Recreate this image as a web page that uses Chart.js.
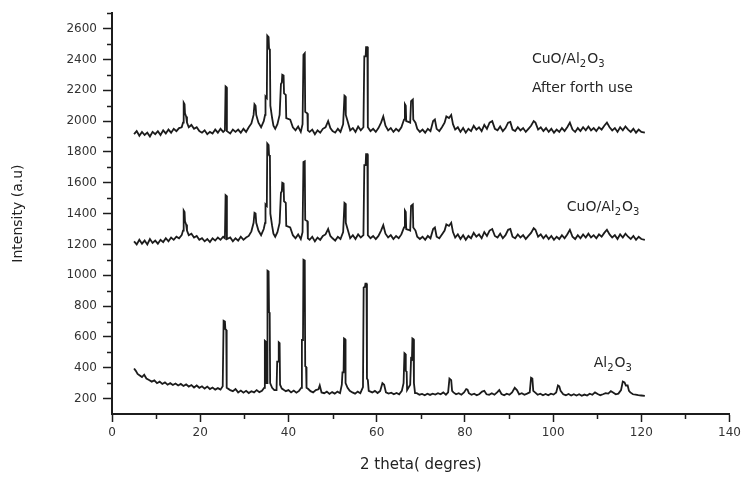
<!DOCTYPE html>
<html>
<head>
<meta charset="utf-8">
<script src="https://cdn.jsdelivr.net/npm/chart.js@4/dist/chart.umd.min.js"></script>
<style>
  body { margin: 0; background: #fff; }
  #wrap { width: 745px; height: 483px; }
</style>
</head>
<body>
<div id="wrap"><canvas id="xrd" width="745" height="483"></canvas></div>
<script>
// XRD patterns, [2 theta, intensity]
const afterUseScan = [
  [5.0,1915],[5.6,1935],[6.2,1905],[6.8,1930],[7.4,1910],[8.0,1925],[8.6,1900],[9.2,1930],[9.8,1915],[10.4,1935],
  [11.0,1910],[11.6,1940],[12.2,1920],[12.8,1945],[13.4,1925],[14.0,1950],[14.6,1935],[15.2,1955],[15.8,1960],[16.1,1990],
  [16.25,2120],[16.45,2110],[16.55,2050],[16.8,2030],[17.0,1990],[17.4,1960],[18.0,1975],[18.6,1950],[19.2,1960],[19.8,1935],
  [20.4,1925],[21.0,1940],[21.6,1915],[22.2,1930],[22.8,1920],[23.4,1945],[24.0,1925],[24.6,1950],[25.2,1930],[25.6,1940],
  [25.75,2225],[25.95,2220],[26.05,1935],[26.8,1920],[27.4,1945],[28.0,1930],[28.6,1945],[29.2,1925],[29.8,1950],[30.4,1930],
  [31.0,1960],[31.6,1985],[32.1,2040],[32.3,2110],[32.55,2100],[32.7,2040],[33.2,1990],[33.8,1960],[34.4,2000],[34.7,2040],
  [34.8,2160],[35.1,2150],[35.2,2555],[35.5,2545],[35.6,2470],[35.8,2460],[35.9,2100],[36.3,2020],[36.6,1970],[37.0,1950],
  [37.5,1980],[38.0,2040],[38.3,2240],[38.5,2250],[38.6,2300],[38.9,2295],[39.0,2180],[39.4,2170],[39.5,2020],[40.4,2010],
  [41.0,1960],[41.6,1940],[42.2,1965],[42.8,1930],[43.2,1980],[43.4,2430],[43.7,2440],[43.8,2060],[44.3,2050],[44.4,1940],
  [44.8,1930],[45.4,1945],[46.0,1915],[46.6,1940],[47.2,1925],[47.8,1950],[48.4,1960],[49.0,2000],[49.5,1955],[50.0,1935],
  [50.6,1925],[51.2,1950],[51.8,1930],[52.4,1980],[52.7,2165],[52.9,2160],[53.0,2040],[53.4,2000],[54.0,1940],[54.6,1955],
  [55.2,1930],[55.8,1965],[56.4,1940],[57.0,1960],[57.2,2420],[57.5,2420],[57.6,2480],[57.9,2480],[58.0,1960],[58.6,1935],
  [59.2,1950],[59.8,1930],[60.4,1955],[61.0,1990],[61.5,2030],[62.0,1970],[62.6,1940],[63.2,1955],[63.8,1930],[64.4,1950],
  [65.0,1935],[65.6,1960],[66.2,2010],[66.4,2110],[66.6,2100],[66.7,2000],[67.2,1995],[67.6,1990],[67.8,2130],[68.2,2140],
  [68.3,2010],[68.8,1990],[69.2,1950],[69.8,1930],[70.4,1945],[71.0,1925],[71.6,1950],[72.2,1935],[72.8,2000],[73.2,2010],
  [73.6,1950],[74.2,1935],[74.8,1960],[75.4,1990],[75.8,2030],[76.4,2020],[76.9,2040],[77.3,1980],[77.8,1945],[78.4,1960],
  [79.0,1930],[79.6,1955],[80.2,1925],[80.8,1950],[81.4,1935],[82.0,1970],[82.6,1945],[83.2,1960],[83.8,1935],[84.4,1975],
  [85.0,1950],[85.6,1990],[86.2,2000],[86.8,1950],[87.4,1940],[88.0,1965],[88.6,1935],[89.2,1955],[89.8,1990],[90.3,1995],
  [90.8,1945],[91.4,1935],[92.0,1960],[92.6,1940],[93.2,1955],[93.8,1930],[94.4,1950],[95.0,1970],[95.6,2000],[96.0,1990],
  [96.6,1945],[97.2,1960],[97.8,1935],[98.4,1955],[99.0,1930],[99.6,1950],[100.2,1925],[100.8,1945],[101.4,1930],[102.0,1955],
  [102.6,1935],[103.2,1960],[103.8,1990],[104.4,1945],[105.0,1930],[105.6,1955],[106.2,1935],[106.8,1960],[107.4,1940],[108.0,1965],
  [108.6,1940],[109.2,1955],[109.8,1935],[110.4,1960],[111.0,1945],[111.6,1970],[112.2,1990],[112.8,1960],[113.4,1940],[114.0,1955],
  [114.6,1930],[115.2,1960],[115.8,1940],[116.4,1965],[117.0,1945],[117.6,1930],[118.2,1950],[118.8,1925],[119.4,1945],[120.0,1930],
  [120.8,1925]
];

const freshScan = [
  [5.0,1220],[5.6,1200],[6.2,1230],[6.8,1205],[7.4,1225],[8.0,1200],[8.6,1235],[9.2,1210],[9.8,1225],[10.4,1205],
  [11.0,1230],[11.6,1215],[12.2,1240],[12.8,1220],[13.4,1245],[14.0,1230],[14.6,1250],[15.2,1240],[15.8,1260],[16.1,1290],
  [16.25,1420],[16.45,1410],[16.55,1350],[16.8,1330],[17.0,1290],[17.4,1260],[18.0,1270],[18.6,1245],[19.2,1255],[19.8,1230],
  [20.4,1240],[21.0,1220],[21.6,1235],[22.2,1215],[22.8,1240],[23.4,1225],[24.0,1245],[24.6,1230],[25.2,1250],[25.6,1240],
  [25.75,1520],[25.95,1515],[26.05,1235],[26.8,1245],[27.4,1220],[28.0,1240],[28.6,1225],[29.2,1250],[29.8,1230],[30.4,1245],
  [31.0,1255],[31.6,1285],[32.1,1340],[32.3,1405],[32.55,1400],[32.7,1340],[33.2,1290],[33.8,1260],[34.4,1300],[34.7,1340],
  [34.8,1460],[35.1,1450],[35.2,1855],[35.5,1845],[35.6,1780],[35.8,1770],[35.9,1400],[36.3,1320],[36.6,1270],[37.0,1250],
  [37.5,1280],[38.0,1340],[38.3,1535],[38.5,1545],[38.6,1600],[38.9,1595],[39.0,1480],[39.4,1470],[39.5,1320],[40.4,1310],
  [41.0,1260],[41.6,1240],[42.2,1265],[42.8,1235],[43.2,1280],[43.4,1735],[43.7,1740],[43.8,1360],[44.3,1350],[44.4,1240],
  [44.8,1230],[45.4,1250],[46.0,1220],[46.6,1245],[47.2,1230],[47.8,1255],[48.4,1265],[49.0,1300],[49.5,1255],[50.0,1240],
  [50.6,1225],[51.2,1250],[51.8,1235],[52.4,1280],[52.7,1470],[52.9,1465],[53.0,1340],[53.4,1300],[54.0,1240],[54.6,1260],
  [55.2,1235],[55.8,1265],[56.4,1245],[57.0,1260],[57.2,1715],[57.5,1715],[57.6,1785],[57.9,1785],[58.0,1260],[58.6,1240],
  [59.2,1255],[59.8,1235],[60.4,1255],[61.0,1290],[61.5,1325],[62.0,1270],[62.6,1245],[63.2,1260],[63.8,1235],[64.4,1255],
  [65.0,1240],[65.6,1265],[66.2,1310],[66.4,1420],[66.6,1410],[66.7,1300],[67.2,1295],[67.6,1290],[67.8,1450],[68.2,1460],
  [68.3,1310],[68.8,1290],[69.2,1250],[69.8,1235],[70.4,1250],[71.0,1230],[71.6,1255],[72.2,1240],[72.8,1300],[73.2,1310],
  [73.6,1250],[74.2,1240],[74.8,1265],[75.4,1290],[75.8,1330],[76.4,1320],[76.9,1340],[77.3,1280],[77.8,1245],[78.4,1265],
  [79.0,1235],[79.6,1260],[80.2,1230],[80.8,1255],[81.4,1240],[82.0,1275],[82.6,1250],[83.2,1265],[83.8,1240],[84.4,1280],
  [85.0,1255],[85.6,1290],[86.2,1300],[86.8,1255],[87.4,1245],[88.0,1270],[88.6,1240],[89.2,1260],[89.8,1295],[90.3,1300],
  [90.8,1250],[91.4,1240],[92.0,1265],[92.6,1245],[93.2,1260],[93.8,1235],[94.4,1255],[95.0,1275],[95.6,1305],[96.0,1295],
  [96.6,1250],[97.2,1265],[97.8,1240],[98.4,1260],[99.0,1235],[99.6,1255],[100.2,1230],[100.8,1250],[101.4,1235],[102.0,1260],
  [102.6,1240],[103.2,1265],[103.8,1295],[104.4,1250],[105.0,1235],[105.6,1260],[106.2,1240],[106.8,1265],[107.4,1245],[108.0,1270],
  [108.6,1245],[109.2,1260],[109.8,1240],[110.4,1265],[111.0,1250],[111.6,1275],[112.2,1295],[112.8,1265],[113.4,1245],[114.0,1260],
  [114.6,1235],[115.2,1265],[115.8,1245],[116.4,1270],[117.0,1250],[117.6,1235],[118.2,1255],[118.8,1230],[119.4,1250],[120.0,1235],
  [120.8,1230]
];

const aluminaScan = [
  [5.0,395],[5.4,380],[5.8,360],[6.3,350],[6.8,340],[7.3,355],[7.8,330],[8.4,320],[9.0,310],[9.6,318],
  [10.2,300],[10.8,310],[11.4,295],[12.0,305],[12.6,290],[13.2,300],[13.8,288],[14.4,298],[15.0,285],[15.6,295],
  [16.2,282],[16.8,292],[17.4,278],[18.0,288],[18.6,272],[19.2,285],[19.8,270],[20.4,280],[21.0,265],[21.6,278],
  [22.2,262],[22.8,272],[23.4,258],[24.0,268],[24.6,258],[25.1,280],[25.3,705],[25.6,700],[25.7,650],[25.9,645],
  [26.0,270],[26.8,255],[27.4,248],[28.0,262],[28.6,240],[29.2,252],[29.8,238],[30.4,250],[31.0,236],[31.6,248],
  [32.2,240],[32.8,255],[33.4,242],[34.0,250],[34.5,270],[34.65,575],[34.85,570],[34.95,300],[35.15,300],[35.25,1030],
  [35.5,1025],[35.6,760],[35.75,755],[35.85,300],[36.3,270],[36.8,255],[37.3,255],[37.45,440],[37.7,440],[37.8,565],
  [38.0,560],[38.1,290],[38.5,265],[39.0,255],[39.4,248],[40.0,255],[40.6,240],[41.2,252],[41.8,238],[42.4,250],
  [42.9,270],[43.05,580],[43.3,580],[43.4,1100],[43.7,1095],[43.8,410],[44.0,405],[44.1,270],[44.5,262],[45.0,248],
  [45.6,240],[46.2,255],[46.8,260],[47.1,285],[47.5,240],[48.1,235],[48.7,245],[49.3,230],[49.9,242],[50.5,232],
  [51.1,245],[51.7,235],[52.1,290],[52.25,370],[52.5,370],[52.6,590],[52.85,585],[52.95,300],[53.4,270],[53.9,250],
  [54.5,240],[55.1,232],[55.7,245],[56.3,235],[56.9,275],[57.05,920],[57.35,925],[57.45,945],[57.7,945],[57.8,330],
  [58.0,320],[58.2,250],[59.0,240],[59.6,250],[60.2,236],[60.8,250],[61.3,300],[61.7,290],[62.1,240],[62.7,232],
  [63.3,238],[63.9,228],[64.5,236],[65.1,228],[65.7,250],[66.1,300],[66.3,495],[66.5,490],[66.6,380],[66.8,375],
  [66.9,255],[67.6,290],[67.8,460],[68.0,455],[68.1,590],[68.35,585],[68.45,300],[68.7,235],[69.1,235],[69.7,225],
  [70.3,230],[70.9,222],[71.5,232],[72.1,224],[72.7,232],[73.3,226],[73.9,235],[74.5,228],[75.1,240],[75.7,225],
  [76.2,240],[76.5,330],[76.9,320],[77.1,250],[77.4,240],[78.0,228],[78.6,235],[79.2,225],[79.8,240],[80.3,262],
  [80.6,258],[80.9,235],[81.5,225],[82.1,232],[82.7,222],[83.3,230],[83.9,245],[84.4,250],[84.9,228],[85.5,225],
  [86.1,235],[86.7,225],[87.3,240],[87.8,255],[88.3,230],[88.9,222],[89.5,232],[90.1,225],[90.7,240],[91.3,270],
  [91.8,255],[92.3,228],[92.9,235],[93.5,225],[94.1,232],[94.7,240],[95.0,335],[95.3,330],[95.5,250],[95.9,240],
  [96.5,225],[97.1,232],[97.7,222],[98.3,230],[98.9,222],[99.5,232],[100.1,226],[100.7,240],[101.1,285],[101.4,280],
  [101.7,250],[102.3,228],[102.9,222],[103.5,230],[104.1,220],[104.7,228],[105.3,220],[105.9,228],[106.5,218],[107.1,226],
  [107.7,220],[108.3,232],[108.9,225],[109.5,240],[110.1,230],[110.7,222],[111.3,228],[111.9,235],[112.5,232],[113.1,248],
  [113.6,240],[114.2,228],[114.8,232],[115.4,255],[115.8,310],[116.2,305],[116.5,285],[116.9,285],[117.2,250],[117.5,240],
  [118.1,228],[118.7,225],[119.3,222],[120.0,220],[120.8,218]
];

const xMajorTicks = [0, 20, 40, 60, 80, 100, 120, 140];
const xMinorTicks = [10, 30, 50, 70, 90, 110, 130];
const yMajorTicks = [200, 400, 600, 800, 1000, 1200, 1400, 1600, 1800, 2000, 2200, 2400, 2600];
const yMinorTicks = [300, 500, 700, 900, 1100, 1300, 1500, 1700, 1900, 2100, 2300, 2500, 2700];

// curve labels: pieces of text, 1 = subscript; anchored at [2 theta, intensity]
const curveLabels = [
  { at: [95.2, 2403], parts: [['CuO/Al', 0], ['2', 1], ['O', 0], ['3', 1]] },
  { at: [95.2, 2212], parts: [['After forth use', 0]] },
  { at: [103.1, 1441], parts: [['CuO/Al', 0], ['2', 1], ['O', 0], ['3', 1]] },
  { at: [109.2, 429], parts: [['Al', 0], ['2', 1], ['O', 0], ['3', 1]] }
];

const ink = '#1c1c1c';
const toPoints = scan => scan.map(p => ({ x: p[0], y: p[1] }));

// short ticks between the labelled ones
const minorTicks = {
  id: 'minorTicks',
  afterDraw(chart) {
    const { ctx, scales: { x, y } } = chart;
    ctx.save();
    ctx.strokeStyle = ink;
    ctx.lineWidth = 1.5;
    ctx.beginPath();
    xMinorTicks.forEach(v => {
      const px = Math.round(x.getPixelForValue(v)) + 0.5;
      ctx.moveTo(px, x.top);
      ctx.lineTo(px, x.top + 5);
    });
    yMinorTicks.forEach(v => {
      const py = Math.round(y.getPixelForValue(v)) + 0.5;
      ctx.moveTo(y.right, py);
      ctx.lineTo(y.right - 5, py);
    });
    ctx.stroke();
    ctx.restore();
  }
};

const curveText = {
  id: 'curveText',
  afterDatasetsDraw(chart) {
    const { ctx, scales: { x, y } } = chart;
    ctx.save();
    ctx.fillStyle = '#262626';
    ctx.textBaseline = 'middle';
    curveLabels.forEach(lab => {
      let px = x.getPixelForValue(lab.at[0]);
      const py = y.getPixelForValue(lab.at[1]);
      lab.parts.forEach(([txt, sub]) => {
        ctx.font = sub ? '10px "DejaVu Sans"' : '14px "DejaVu Sans"';
        ctx.fillText(txt, px, sub ? py + 5 : py);
        px += ctx.measureText(txt).width + (sub ? 1 : 0);
      });
    });
    ctx.restore();
  }
};

new Chart(document.getElementById('xrd'), {
  type: 'scatter',
  data: {
    datasets: [
      { label: 'CuO/Al2O3 after forth use', data: toPoints(afterUseScan) },
      { label: 'CuO/Al2O3', data: toPoints(freshScan) },
      { label: 'Al2O3', data: toPoints(aluminaScan) }
    ].map(ds => Object.assign(ds, {
      showLine: true,
      borderColor: ink,
      borderWidth: 1.8,
      pointRadius: 0,
      tension: 0
    }))
  },
  options: {
    responsive: false,
    animation: false,
    layout: { padding: { left: 0, right: 14, top: 5, bottom: 0 } },
    plugins: { legend: { display: false }, tooltip: { enabled: false } },
    scales: {
      x: {
        type: 'linear',
        min: 0,
        max: 140,
        afterBuildTicks: s => { s.ticks = xMajorTicks.map(v => ({ value: v })); },
        afterFit: s => { s.height = 69; },
        grid: { drawOnChartArea: false, tickLength: 8, tickColor: ink, tickWidth: 1.5 },
        border: { color: ink, width: 2 },
        ticks: {
          color: '#333', padding: 4, font: { family: 'DejaVu Sans', size: 12 },
          callback: v => String(v)
        },
        title: {
          display: true,
          text: '2 theta( degres)',
          color: '#222',
          font: { family: 'DejaVu Sans', size: 15 },
          padding: { top: 4, bottom: 9 }
        }
      },
      y: {
        min: 100,
        max: 2700,
        afterBuildTicks: s => { s.ticks = yMajorTicks.map(v => ({ value: v })); },
        afterFit: s => { s.width = 112; },
        grid: { drawOnChartArea: false, tickLength: 9, tickColor: ink, tickWidth: 1.5 },
        border: { color: ink, width: 2 },
        ticks: {
          color: '#333', padding: 6, font: { family: 'DejaVu Sans', size: 12 },
          callback: v => String(v)
        },
        title: {
          display: true,
          text: 'Intensity (a.u)',
          color: '#222',
          font: { family: 'DejaVu Sans', size: 14 },
          padding: { top: 10, bottom: 0 }
        }
      }
    }
  },
  plugins: [minorTicks, curveText]
});
</script>
</body>
</html>
